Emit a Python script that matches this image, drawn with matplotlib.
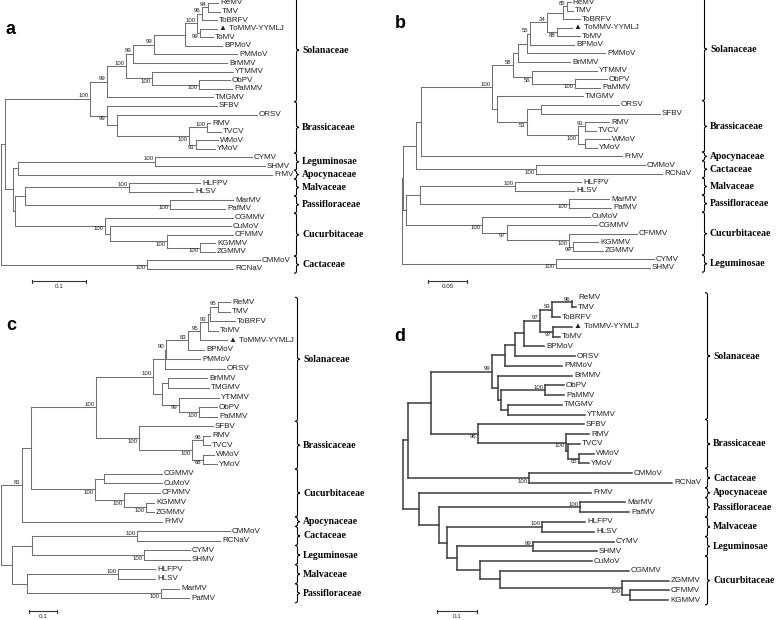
import matplotlib
matplotlib.use("Agg")
import matplotlib.pyplot as plt
from matplotlib.collections import LineCollection
from matplotlib.path import Path
from matplotlib.patches import PathPatch

# ----------------------------- data -----------------------------
# Newick trees (branch lengths = substitutions/site, internal labels = bootstrap)
a_sol = ("((((((((ReMV:0.0185,TMV:0.0222)94:0.0111,ToBRFV:0.0278)96:0.0093,"
         "(ToMMV-YYMLJ:0.0315,ToMV:0.0241)99:0.0056)100:0.0222,BPMoV:0.0685):0.0574,"
         "PMMoV:0.1537)99:0.0389,BrMMV:0.1741)99:0.0130,"
         "(YTMMV:0.1500,(ObPV:0.0574,PaMMV:0.0611)100:0.0870)100:0.0481)100:0.0352,"
         "TMGMV:0.1963)99")
a_bra = ("(SFBV:0.2037,(ORSV:0.2593,((RMV:0.0056,TVCV:0.0259)100:0.0333,"
         "(WMoV:0.0407,YMoV:0.0352)91:0.0130)100:0.1333):0.0185)99")
a_low = ("(((CYMV:0.1796,SHMV:0.2037)100:0.2537,FrMV:0.4704):0.0093,"
         "(((HLFPV:0.1315,HLSV:0.1185)100:0.1926,(MarMV:0.1167,PafMV:0.1019)100:0.2685):0.0185,"
         "(CGMMV:0.2370,(CuMoV:0.2241,(CFMMV:0.1222,(KGMMV:0.0278,ZGMMV:0.0278)100:0.0611)100:0.1056):0.0093)100:0.1667):0.0037)")
tree_a = ("(((" + a_sol + ":0.0315," + a_bra + ":0.0315)100:0.1574," + a_low +
          ":0.0148):0.0074,(CMMoV:0.2093,RCNaV:0.1593)100:0.2704);")

b_sol = ("(((((((ReMV:0.0051,TMV:0.0077)85:0.0051,ToBRFV:0.0218):0.0205,"
         "(ToMMV-YYMLJ:0.0192,ToMV:0.0295)88:0.0128)34:0.0218,BPMoV:0.0564)55:0.0038,"
         "PMMoV:0.1000):0.0115,BrMMV:0.0667):0.0064,"
         "(YTMMV:0.0833,(ObPV:0.0410,PaMMV:0.0321)100:0.0551)56:0.0244)58")
b_bra = ("(TMGMV:0.1103,((ORSV:0.1000,SFBV:0.1526):0.0179,((RMV:0.0308,TVCV:0.0141)91:0.0090,"
         "(WMoV:0.0321,YMoV:0.0154):0.0090)100:0.0654)53:0.0385)")
b_low = ("(((HLFPV:0.0846,HLSV:0.0756)100:0.1218,(MarMV:0.0513,PafMV:0.0538)100:0.1910):0.0179,"
         "(CuMoV:0.1385,(CGMMV:0.1154,(CFMMV:0.0872,(KGMMV:0.0321,ZGMMV:0.0385)99:0.0051)100:0.0795)97:0.0321)100:0.0974)")
tree_b = ("(((((" + b_sol + ":0.0269," + b_bra + ":0.0064)100:0.0910,FrMV:0.2577):0.0064,"
          "(CMMoV:0.1397,RCNaV:0.1615)100:0.1538):0.0167," + b_low + ":0.0038):0.0013,"
          "(CYMV:0.1256,SHMV:0.1205)100:0.1974);")

c_sol = ("((((((((ReMV:0.0429,TMV:0.0429)95:0.0286,ToBRFV:0.0893):0.0071,ToMV:0.0357)93:0.0286,"
         "ToMMV-YYMLJ:0.0964)95:0.0429,BPMoV:0.0571)83:0.0786,PMMoV:0.1214)90:0.0036,ORSV:0.2143):0.0429,"
         "((BrMMV:0.1393,TMGMV:0.1464):0.0214,(YTMMV:0.1429,(ObPV:0.0643,PaMMV:0.0643)100:0.0714)99:0.0607):0.0321)100")
c_bra = ("(SFBV:0.2643,((RMV:0.0250,TVCV:0.0250)96:0.0393,"
         "(WMoV:0.0393,YMoV:0.0500)68:0.0393)100:0.1893)100")
c_cuc = ("((CGMMV:0.2071,CuMoV:0.2071):0.0321,(CFMMV:0.1286,"
         "(KGMMV:0.0286,ZGMMV:0.0286)100:0.0786)100:0.1036)100")
c_low = ("(((CMMoV:0.3321,RCNaV:0.2964)100:0.3750,(CYMV:0.1643,SHMV:0.1643)100:0.4000):0.0714,"
         "((HLFPV:0.1321,HLSV:0.1321)100:0.3250,(MarMV:0.0643,PafMV:0.1000)100:0.4786):0.0536)")
tree_c = ("((((" + c_sol + ":0.2036," + c_bra + ":0.1536)100:0.2321," + c_cuc +
          ":0.2286):0.0321,FrMV:0.5000)81:0.0750," + c_low + ":0.0393);")

d_sol = ("(((((((ReMV:0.0100,TMV:0.0100)96:0.0500,ToBRFV:0.0200)93:0.0300,"
         "(ToMMV-YYMLJ:0.0475,ToMV:0.0175)97:0.0325)97:0.0400,BPMoV:0.0500):0.0225,"
         "ORSV:0.1500):0.0250,PMMoV:0.1425):0.0325,"
         "(BrMMV:0.1850,((ObPV:0.0475,PaMMV:0.0475)100:0.1100,(TMGMV:0.1350,YTMMV:0.1925):0.0175):0.0075):0.0150)99")
d_bra = ("(SFBV:0.2650,(RMV:0.0575,(TVCV:0.0300,(WMoV:0.0375,YMoV:0.0250)65:0.0275):0.0050)100:0.2200)96")
d_low = ("(FrMV:0.4300,((MarMV:0.1125,PafMV:0.1225)100:0.3525,((HLFPV:0.1075,HLSV:0.1300)100:0.2375,"
         "((CYMV:0.2025,SHMV:0.1600)99:0.1900,(CuMoV:0.2800,(CGMMV:0.3225,(ZGMMV:0.1175,"
         "(CFMMV:0.0975,KGMMV:0.0950):0.0200)100:0.3050):0.0500):0.0575):0.0250):0.0200):0.0500)")
tree_d = ("(((" + d_sol + ":0.1525," + d_bra + ":0.1175):0.0575,(CMMoV:0.2575,RCNaV:0.3575)100:0.3025):0.0125,"
          + d_low + ":0.0400);")

marked_leaves = ["ToMMV-YYMLJ"]

fam_a = [("Solanaceae", "ReMV", "TMGMV"), ("Brassicaceae", "SFBV", "YMoV"),
         ("Leguminosae", "CYMV", "SHMV"), ("Apocynaceae", "FrMV", "FrMV"),
         ("Malvaceae", "HLFPV", "HLSV"), ("Passifloraceae", "MarMV", "PafMV"),
         ("Cucurbitaceae", "CGMMV", "ZGMMV"), ("Cactaceae", "CMMoV", "RCNaV")]
fam_b = [("Solanaceae", "ReMV", "TMGMV"), ("Brassicaceae", "ORSV", "YMoV"),
         ("Apocynaceae", "FrMV", "FrMV"), ("Cactaceae", "CMMoV", "RCNaV"),
         ("Malvaceae", "HLFPV", "HLSV"), ("Passifloraceae", "MarMV", "PafMV"),
         ("Cucurbitaceae", "CuMoV", "ZGMMV"), ("Leguminosae", "CYMV", "SHMV")]
fam_c = [("Solanaceae", "ReMV", "PaMMV"), ("Brassicaceae", "SFBV", "YMoV"),
         ("Cucurbitaceae", "CGMMV", "ZGMMV"), ("Apocynaceae", "FrMV", "FrMV"),
         ("Cactaceae", "CMMoV", "RCNaV"), ("Leguminosae", "CYMV", "SHMV"),
         ("Malvaceae", "HLFPV", "HLSV"), ("Passifloraceae", "MarMV", "PafMV")]
fam_d = [("Solanaceae", "ReMV", "YTMMV"), ("Brassicaceae", "SFBV", "YMoV"),
         ("Cactaceae", "CMMoV", "RCNaV"), ("Apocynaceae", "FrMV", "FrMV"),
         ("Passifloraceae", "MarMV", "PafMV"), ("Malvaceae", "HLFPV", "HLSV"),
         ("Leguminosae", "CYMV", "SHMV"), ("Cucurbitaceae", "CuMoV", "KGMMV")]

scale_lengths = [0.1, 0.05, 0.1, 0.1]
scale_labels = ["0.1", "0.05", "0.1", "0.1"]
panel_letters = ["a", "b", "c", "d"]

# ----------------------------- layout -----------------------------
W, H = 779, 620
panels = [
    dict(box=(0, 0, 390, 300), root=1, pxu=540, leaf0=3.0, dy=8.58, brace=294, lab=302,
         letter=(11, 30), bar=(32, 281), lc="#707070", lw=0.75),
    dict(box=(390, 0, 389, 300), root=402, pxu=780, leaf0=2.0, dy=8.58, brace=702, lab=710,
         letter=(400, 24), bar=(428, 281), lc="#707070", lw=0.75),
    dict(box=(0, 300, 390, 320), root=1, pxu=280, leaf0=302.0, dy=9.55, brace=295, lab=303,
         letter=(11, 326), bar=(29, 611), lc="#707070", lw=0.75),
    dict(box=(390, 300, 389, 320), root=403, pxu=400, leaf0=297.5, dy=9.76, brace=705, lab=713,
         letter=(400, 336), bar=(437, 611), lc="#3c3c3c", lw=1.1),
]

plt.rcParams["font.family"] = ["Liberation Sans", "DejaVu Sans"]


def parse_newick(s):
    s = s.strip().rstrip(";")
    pos = 0

    def node():
        nonlocal pos
        children = []
        if s[pos] == "(":
            pos += 1
            while True:
                children.append(node())
                if s[pos] == ",":
                    pos += 1
                    continue
                if s[pos] == ")":
                    pos += 1
                    break
        start = pos
        while pos < len(s) and s[pos] not in ":,)":
            pos += 1
        name = s[start:pos].strip()
        length = 0.0
        if pos < len(s) and s[pos] == ":":
            pos += 1
            start = pos
            while pos < len(s) and s[pos] not in ",)":
                pos += 1
            length = float(s[start:pos])
        return dict(name=name, length=length, children=children)

    return node()


def layout(tree):
    leaves, internals = [], []

    def rec(n, parent_x, first):
        n["px"] = parent_x
        n["x"] = parent_x + n["length"]
        n["first"] = first
        if n["children"]:
            for i, c in enumerate(n["children"]):
                rec(c, n["x"], i == 0)
            n["y"] = (n["children"][0]["y"] + n["children"][-1]["y"]) / 2.0
            internals.append(n)
        else:
            n["y"] = float(len(leaves))
            leaves.append(n)

    rec(tree, 0.0, True)
    return leaves, internals


def brace_path(xl, yt, yb, w, r):
    xm, xr, m = xl + w * 0.5, xl + w, (yt + yb) / 2.0
    verts = [(xl, yt), (xm, yt), (xm, yt + r), (xm, m - r), (xm, m), (xr, m),
             (xm, m), (xm, m + r), (xm, yb - r), (xm, yb), (xl, yb)]
    codes = [Path.MOVETO, Path.CURVE3, Path.CURVE3, Path.LINETO, Path.CURVE3, Path.CURVE3,
             Path.CURVE3, Path.CURVE3, Path.LINETO, Path.CURVE3, Path.CURVE3]
    return Path(verts, codes)


fig = plt.figure(figsize=(W / 100, H / 100), dpi=100)
fig.patch.set_facecolor("white")

trees = [tree_a, tree_b, tree_c, tree_d]
fams = [fam_a, fam_b, fam_c, fam_d]

for k in range(4):
    cfg = panels[k]
    x0, y0, w, h = cfg["box"]
    pxu, dy = cfg["pxu"], cfg["dy"]
    ax = fig.add_axes([x0 / W, 1 - (y0 + h) / H, w / W, h / H])
    ax.set_xlim((x0 - cfg["root"]) / pxu, (x0 + w - cfg["root"]) / pxu)
    ax.set_ylim((y0 + h - cfg["leaf0"]) / dy, (y0 - cfg["leaf0"]) / dy)
    ax.axis("off")
    X = lambda px: (px - cfg["root"]) / pxu
    Y = lambda py: (py - cfg["leaf0"]) / dy

    root = parse_newick(trees[k])
    leaves, internals = layout(root)

    segs = []
    for n in leaves + internals:
        if n is not root:
            segs.append([(n["px"], n["y"]), (n["x"], n["y"])])
    for n in internals:
        segs.append([(n["x"], n["children"][0]["y"]), (n["x"], n["children"][-1]["y"])])
    ax.add_collection(LineCollection(segs, colors=cfg["lc"], linewidths=cfg["lw"],
                                     capstyle="projecting"))

    for lf in leaves:
        label = ("\u25b2 " + lf["name"]) if lf["name"] in marked_leaves else lf["name"]
        ax.text(lf["x"] + 2.0 / pxu, lf["y"], label, fontsize=5.8, color="#1e1e1e",
                va="center", ha="left", clip_on=False)

    for n in internals:
        if n["name"]:
            if n["first"]:
                ax.text(n["x"] - 1.5 / pxu, n["y"] - 0.4 / dy, n["name"], fontsize=4.3,
                        color="#222222", ha="right", va="bottom", clip_on=False)
            else:
                ax.text(n["x"] - 1.5 / pxu, n["y"] + 0.8 / dy, n["name"], fontsize=4.3,
                        color="#222222", ha="right", va="top", clip_on=False)

    idx = {lf["name"]: lf["y"] for lf in leaves}
    for fam, first, last in fams[k]:
        yt, yb = idx[first] - 0.5, idx[last] + 0.5
        r = min(2.0 / dy, (yb - yt) / 4.0)
        p = brace_path(X(cfg["brace"]), yt, yb, 5.0 / pxu, r)
        ax.add_patch(PathPatch(p, facecolor="none", edgecolor="black", lw=0.8, clip_on=False))
        ax.text(X(cfg["lab"]), (yt + yb) / 2.0, fam, fontsize=7, fontweight="bold",
                family="Liberation Serif", va="center", ha="left", color="black", clip_on=False)

    bx, by = cfg["bar"]
    xs, ys = X(bx), Y(by)
    L = scale_lengths[k]
    t = 1.5 / dy
    ax.plot([xs, xs + L], [ys, ys], color="#333333", lw=0.8, clip_on=False)
    ax.plot([xs, xs], [ys - t, ys + t], color="#333333", lw=0.8, clip_on=False)
    ax.plot([xs + L, xs + L], [ys - t, ys + t], color="#333333", lw=0.8, clip_on=False)
    ax.text(xs + L / 2, ys + 5.5 / dy, scale_labels[k], fontsize=4.5, color="#222222",
            ha="center", va="center", clip_on=False)

    lx, ly = cfg["letter"]
    fig.text(lx / W, 1 - ly / H, panel_letters[k], fontsize=13, fontweight="bold",
             ha="center", va="center", color="black")

fig.savefig("out.png", dpi=100)
